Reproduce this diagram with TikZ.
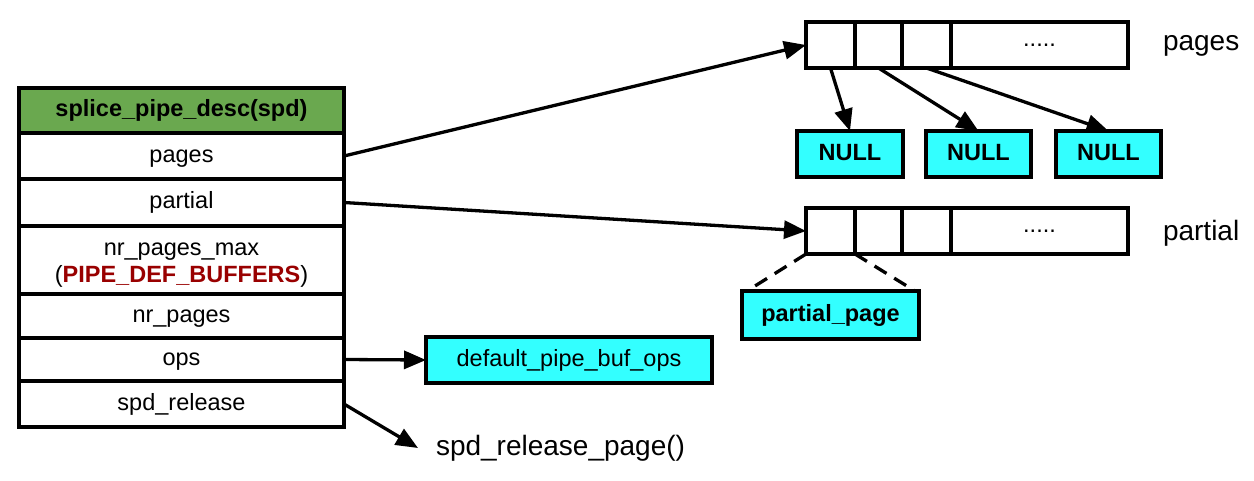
\documentclass[tikz,border=0pt]{standalone}
\usepackage{fontspec}
\setmainfont{Liberation Sans}
\usetikzlibrary{positioning,arrows.meta}
\definecolor{hdrgreen}{HTML}{6AA84F}
\definecolor{boxcyan}{HTML}{33FFFF}
\definecolor{defred}{HTML}{990000}

\begin{document}
\begin{tikzpicture}[x=1pt, y=-1pt, line width=3.3pt, node distance=0pt,
  every node/.style={font=\fontsize{23.5}{27}\selectfont, align=center, inner sep=0pt, outer sep=0pt},
  field/.style={draw, fill=white, minimum width=325pt},
  onefield/.style={field, text height=16pt, text depth=4pt},
  cell/.style={draw, fill=white, minimum height=46pt},
  cyanbox/.style={draw, fill=boxcyan, minimum height=46pt, text height=16pt, text depth=4pt},
  ptr/.style={-{Triangle[length=22pt,width=18pt]}},
  sidelabel/.style={font=\fontsize{28}{32}\selectfont, anchor=west}]
\fill[white] (0,0) rectangle (1254,480);
\useasboundingbox (0,0) rectangle (1254,480);

% the spd struct
\node[onefield, fill=hdrgreen, minimum height=45pt, font=\fontsize{23.5}{27}\selectfont\bfseries] (spd) at (181.5,110.5) {splice\_pipe\_desc(spd)};
\node[onefield, minimum height=46pt, below=of spd] (pages) {pages};
\node[onefield, minimum height=47pt, below=of pages] (partial) {partial};
\node[field, minimum height=68pt, below=of partial] (maxpg) {\rule{0pt}{22pt}nr\_pages\_max\\(\textcolor{defred}{\textbf{PIPE\_DEF\_BUFFERS}})};
\node[onefield, minimum height=44pt, below=of maxpg] (nrpg) {nr\_pages};
\node[onefield, minimum height=43pt, below=of nrpg] (ops) {ops};
\node[onefield, minimum height=46pt, below=of ops] (release) {spd\_release};

% pages array
\node[cell, minimum width=49pt] (pg1) at (830.5,45) {};
\node[cell, minimum width=47pt, right=of pg1] (pg2) {};
\node[cell, minimum width=49pt, right=of pg2] (pg3) {};
\node[cell, minimum width=177pt, right=of pg3] (pg4) {.....};
\node[sidelabel] (pglabel) at (1163,46) {pages};

\node[cyanbox, minimum width=106pt, font=\fontsize{23.5}{27}\selectfont\bfseries] (null1) at (850,154) {NULL};
\node[cyanbox, minimum width=105pt, font=\fontsize{23.5}{27}\selectfont\bfseries] (null2) at (978.5,154) {NULL};
\node[cyanbox, minimum width=105pt, font=\fontsize{23.5}{27}\selectfont\bfseries] (null3) at (1108.5,154) {NULL};

% partial array
\node[cell, minimum width=49pt] (pt1) at (830.5,231) {};
\node[cell, minimum width=47pt, right=of pt1] (pt2) {};
\node[cell, minimum width=49pt, right=of pt2] (pt3) {};
\node[cell, minimum width=177pt, right=of pt3] (pt4) {.....};
\node[sidelabel] (ptlabel) at (1163,233) {partial};

\node[cyanbox, minimum width=177pt, minimum height=48pt, font=\fontsize{23.5}{27}\selectfont\bfseries] (ppage) at (830.5,315) {partial\_page};

% ops and release
\node[cyanbox, minimum width=286pt] (defops) at (569,360) {default\_pipe\_buf\_ops};
\node[sidelabel] (relpage) at (436,448) {spd\_release\_page()};

\draw[ptr] (pages.east) -- (pg1.west);
\draw[ptr] (partial.east) -- (pt1.west);
\draw[ptr] (pg1.south) -- (null1.north);
\draw[ptr] (pg2.south) -- (null2.north);
\draw[ptr] (pg3.south) -- (null3.north);
\draw[dash pattern=on 14pt off 9pt] (pt1.south west) -- ([xshift=5pt]ppage.north west);
\draw[dash pattern=on 14pt off 9pt] (pt1.south east) -- ([xshift=-4pt]ppage.north east);
\draw[ptr] (ops.east) -- (defops.west);
\draw[ptr] (release.east) -- ([xshift=-18pt]relpage.west);
\end{tikzpicture}
\end{document}
